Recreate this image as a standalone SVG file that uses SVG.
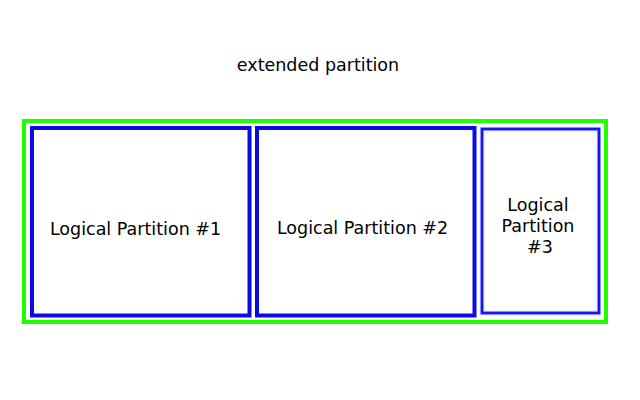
<svg xmlns="http://www.w3.org/2000/svg" width="640" height="400" viewBox="0 0 640 400">
<style>
.lbl{font-family:"DejaVu Sans","Liberation Sans",sans-serif;font-size:17.5px;fill:#000;text-anchor:middle}
.box{fill:none;stroke:#0a0ae6;stroke-width:4}
</style>
<rect width="640" height="400" fill="#fff"/>
<g id="extended">
<rect x="24" y="121" width="582" height="201" fill="none" stroke="#1eff00" stroke-width="4"/>
<text class="lbl" x="318" y="71">extended partition</text>
</g>
<g id="lp1">
<rect class="box" x="32" y="128" width="217.5" height="187.5"/>
<text class="lbl" x="135.5" y="235">Logical Partition #1</text>
</g>
<g id="lp2">
<rect class="box" x="257" y="128" width="217.5" height="187.5"/>
<text class="lbl" x="362.5" y="234">Logical Partition #2</text>
</g>
<g id="lp3">
<rect x="482" y="129" width="117" height="184" fill="none" stroke="#c4c6ff" stroke-width="4.5"/>
<rect x="482" y="129" width="117" height="184" fill="none" stroke="#1616ee" stroke-width="2.6"/>
<text class="lbl" x="538" y="211">Logical</text>
<text class="lbl" x="538" y="232">Partition</text>
<text class="lbl" x="540" y="252.5">#3</text>
</g>
<g id="connectors"/>
</svg>
